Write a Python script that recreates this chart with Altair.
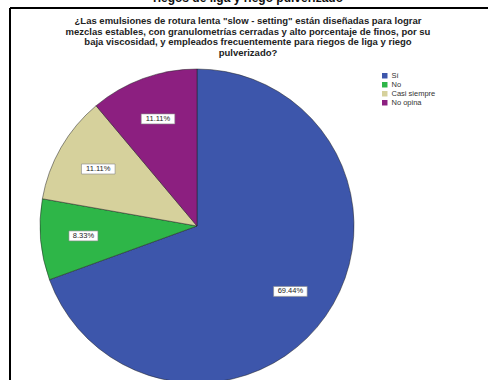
import altair as alt
import pandas as pd

categorias = ["Sí", "No", "Casi siempre", "No opina"]
porcentajes = [69.44, 8.33, 11.11, 11.11]
etiquetas = ["69.44%", "8.33%", "11.11%", "11.11%"]
orden = [1, 2, 3, 4]
colores = ["#3D56AB", "#2EB648", "#D6D19C", "#8C1F80"]

titulo = [
    "¿Las emulsiones de rotura lenta \"slow - setting\" están diseñadas para lograr",
    "mezclas estables, con granulometrías cerradas y alto porcentaje de finos, por su",
    "baja viscosidad, y empleados frecuentemente para riegos de liga y riego",
    "pulverizado?",
]
encabezado = ["riegos de liga y riego pulverizado"]

df = pd.DataFrame({"categoria": categorias, "pct": porcentajes,
                   "etiqueta": etiquetas, "orden": orden})
tdf = pd.DataFrame({"t": ["\n".join(titulo)]})
hdf = pd.DataFrame({"t": encabezado})

W, H = 478, 372
CX, CY, R, RL = 187, 218, 157, 114

color = alt.Color(
    "categoria:N",
    scale=alt.Scale(domain=categorias, range=colores),
    legend=alt.Legend(title=None, orient="none", legendX=371, legendY=64,
                      symbolType="square", symbolSize=30, symbolStrokeWidth=0,
                      labelFontSize=7.5, labelFont="Liberation Sans",
                      labelColor="#333", rowPadding=0, padding=0, labelOffset=3),
)

base = alt.Chart(df)

pie = base.mark_arc(outerRadius=R, stroke="#222", strokeWidth=0.5).encode(
    theta=alt.Theta("pct:Q", stack=True),
    order=alt.Order("orden:Q"),
    color=color,
    x=alt.value(CX),
    y=alt.value(CY),
)

lab = base.transform_window(
    cum="sum(pct)", sort=[alt.SortField("orden")], frame=[None, 0]
).transform_joinaggregate(
    total="sum(pct)"
).transform_calculate(
    mid="(datum.cum - datum.pct/2)/datum.total*2*PI"
).transform_calculate(
    lx=f"{CX}+{RL}*sin(datum.mid)",
    ly=f"{CY}-{RL}*cos(datum.mid)",
    bw="length(datum.etiqueta)*4.6+6",
).transform_calculate(
    x1="datum.lx - datum.bw/2",
    x2="datum.lx + datum.bw/2",
    y1="datum.ly - 5",
    y2="datum.ly + 5",
)

boxes = lab.mark_rect(fill="white", stroke="#888", strokeWidth=0.6).encode(
    x=alt.X("x1:Q", scale=None, axis=None), x2="x2:Q",
    y=alt.Y("y1:Q", scale=None, axis=None), y2="y2:Q",
)
texts = lab.mark_text(fontSize=7.5, font="Liberation Sans", color="#222").encode(
    x=alt.X("lx:Q", scale=None, axis=None),
    y=alt.Y("ly:Q", scale=None, axis=None),
    text="etiqueta:N",
)

title = alt.Chart(tdf).mark_text(
    lineBreak="\n", fontSize=9.5, fontWeight="bold", font="Liberation Sans",
    baseline="top", align="center", lineHeight=10.5, color="#222",
).encode(x=alt.value(238), y=alt.value(8), text="t:N")

header = alt.Chart(hdf).mark_text(
    fontSize=12, fontWeight="bold", font="Liberation Sans",
    baseline="alphabetic", align="center", color="#111",
).encode(x=alt.value(238), y=alt.value(-6), text="t:N")

frame_left = alt.Chart(hdf).mark_rule(color="black", strokeWidth=2).encode(
    x=alt.value(0), y=alt.value(0), y2=alt.value(H))
frame_top = alt.Chart(hdf).mark_rule(color="black", strokeWidth=2).encode(
    x=alt.value(0), x2=alt.value(W), y=alt.value(0))

chart = alt.layer(pie, boxes, texts, title, header, frame_left, frame_top).properties(
    width=W, height=H,
    autosize=alt.AutoSizeParams(type="none"),
    padding={"left": 10, "top": 8, "right": 0, "bottom": 0},
    background="white",
).configure_view(stroke=None)

chart.save("out.html", embed_options={"renderer": "svg", "actions": False})
